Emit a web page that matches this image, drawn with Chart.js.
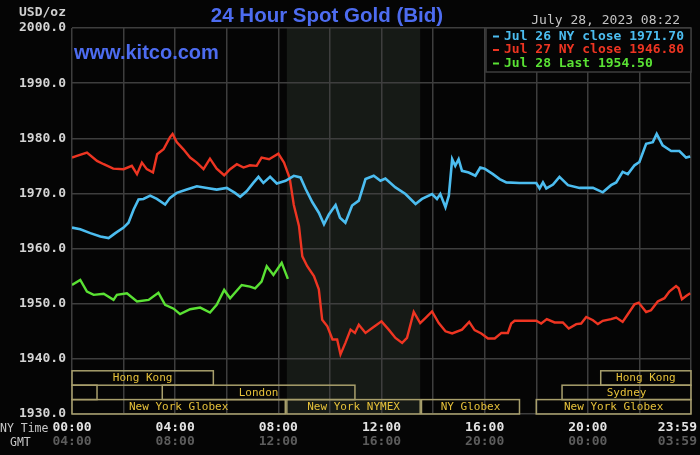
<!DOCTYPE html>
<html>
<head>
<meta charset="utf-8">
<script src="https://cdn.jsdelivr.net/npm/chart.js@4.4.0/dist/chart.umd.min.js"></script>
<style>
  html, body { margin: 0; padding: 0; background: #050505; }
  #goldChart { display: block; background: #050505; }
</style>
</head>
<body>
<canvas id="goldChart" width="700" height="455"></canvas>
<script>
// NY time in hours, gold bid in USD/oz
const hoursJul26 = [0.0, 0.32, 0.71, 1.1, 1.42, 1.68, 2.0, 2.19, 2.39, 2.58, 2.77, 3.03, 3.29, 3.61, 3.8, 4.06, 4.45, 4.84, 5.23, 5.61, 6.0, 6.32, 6.52, 6.77, 7.03, 7.23, 7.42, 7.68, 7.94, 8.28, 8.6, 8.86, 9.06, 9.32, 9.57, 9.77, 9.96, 10.22, 10.39, 10.6, 10.86, 11.12, 11.38, 11.7, 11.96, 12.15, 12.54, 12.93, 13.32, 13.57, 13.96, 14.15, 14.28, 14.48, 14.61, 14.74, 14.86, 14.99, 15.12, 15.38, 15.64, 15.83, 16.0, 16.32, 16.58, 16.84, 17.35, 18.0, 18.13, 18.26, 18.39, 18.65, 18.9, 19.23, 19.68, 20.2, 20.58, 20.9, 21.1, 21.35, 21.55, 21.81, 22.0, 22.26, 22.52, 22.67, 22.9, 23.23, 23.55, 23.81, 23.97];
const goldJul26 = [1963.8, 1963.5, 1962.8, 1962.2, 1961.9, 1962.8, 1963.8, 1964.7, 1967.1, 1968.9, 1969.0, 1969.6, 1969.0, 1968.0, 1969.2, 1970.1, 1970.7, 1971.3, 1971.0, 1970.7, 1971.0, 1970.1, 1969.4, 1970.4, 1971.9, 1973.0, 1971.9, 1973.0, 1971.8, 1972.3, 1973.2, 1972.9, 1970.8, 1968.4, 1966.5, 1964.4, 1966.2, 1967.9, 1965.6, 1964.7, 1967.8, 1968.7, 1972.6, 1973.2, 1972.3, 1972.7, 1971.1, 1969.9, 1968.1, 1969.0, 1969.9, 1969.0, 1969.9, 1967.5, 1969.6, 1976.2, 1975.0, 1976.2, 1974.1, 1973.8, 1973.2, 1974.7, 1974.5, 1973.5, 1972.6, 1972.0, 1971.9, 1971.9, 1970.9, 1972.0, 1970.9, 1971.6, 1973.0, 1971.5, 1971.0, 1971.0, 1970.2, 1971.5, 1972.0, 1973.9, 1973.5, 1975.1, 1975.7, 1979.0, 1979.3, 1980.8, 1978.7, 1977.7, 1977.7, 1976.5, 1976.7];

const hoursJul27 = [0.0, 0.19, 0.58, 0.97, 1.23, 1.6, 2.0, 2.32, 2.52, 2.71, 2.9, 3.14, 3.3, 3.55, 3.8, 3.9, 4.06, 4.32, 4.58, 4.84, 5.1, 5.35, 5.61, 5.9, 6.13, 6.39, 6.65, 6.9, 7.16, 7.35, 7.64, 8.0, 8.22, 8.44, 8.6, 8.8, 8.93, 9.12, 9.38, 9.57, 9.7, 9.9, 10.1, 10.28, 10.41, 10.6, 10.8, 10.97, 11.12, 11.38, 11.64, 12.0, 12.28, 12.54, 12.8, 12.99, 13.25, 13.5, 13.7, 13.96, 14.22, 14.48, 14.74, 15.12, 15.4, 15.61, 15.87, 16.13, 16.39, 16.65, 16.9, 17.03, 17.16, 18.0, 18.19, 18.41, 18.71, 19.03, 19.26, 19.55, 19.74, 19.94, 20.2, 20.39, 20.58, 20.9, 21.1, 21.35, 21.61, 21.81, 21.97, 22.26, 22.45, 22.71, 22.97, 23.16, 23.42, 23.52, 23.65, 23.81, 23.97];
const goldJul27 = [1976.5, 1976.8, 1977.4, 1975.9, 1975.3, 1974.5, 1974.4, 1975.0, 1973.5, 1975.6, 1974.4, 1973.8, 1977.1, 1978.0, 1980.2, 1980.8, 1979.3, 1978.0, 1976.5, 1975.6, 1974.4, 1976.3, 1974.5, 1973.3, 1974.4, 1975.3, 1974.7, 1975.1, 1975.0, 1976.5, 1976.2, 1977.2, 1975.6, 1972.8, 1967.9, 1964.1, 1958.6, 1956.8, 1955.0, 1952.6, 1947.1, 1945.9, 1943.5, 1943.5, 1940.8, 1942.9, 1945.3, 1944.7, 1946.2, 1944.7, 1945.6, 1946.8, 1945.3, 1943.8, 1942.9, 1943.8, 1948.5, 1946.5, 1947.4, 1948.6, 1946.5, 1945.0, 1944.6, 1945.3, 1946.7, 1945.2, 1944.6, 1943.7, 1943.7, 1944.7, 1944.7, 1946.4, 1946.9, 1946.9, 1946.4, 1947.2, 1946.6, 1946.6, 1945.5, 1946.3, 1946.4, 1947.6, 1947.0, 1946.3, 1946.9, 1947.2, 1947.5, 1946.7, 1948.5, 1949.9, 1950.2, 1948.5, 1948.8, 1950.4, 1951.0, 1952.2, 1953.2, 1952.8, 1950.8, 1951.4, 1951.9];

const hoursJul28 = [0.0, 0.32, 0.58, 0.84, 1.23, 1.61, 1.74, 2.13, 2.52, 2.97, 3.35, 3.61, 3.94, 4.19, 4.58, 4.97, 5.35, 5.61, 5.9, 6.13, 6.58, 6.9, 7.1, 7.35, 7.55, 7.81, 8.13, 8.37];
const goldJul28 = [1953.4, 1954.3, 1952.2, 1951.6, 1951.8, 1950.7, 1951.6, 1951.9, 1950.4, 1950.7, 1952.0, 1949.8, 1949.1, 1948.1, 1949.0, 1949.3, 1948.4, 1949.8, 1952.5, 1951.0, 1953.4, 1953.1, 1952.8, 1954.0, 1956.8, 1955.2, 1957.4, 1954.5];

const seriesLabels = ['Jul 26 NY close 1971.70', 'Jul 27 NY close 1946.80', 'Jul 28 Last 1954.50'];

// axis ticks
const nyTimeLabels = ['00:00', '04:00', '08:00', '12:00', '16:00', '20:00', '23:59'];
const gmtLabels = ['04:00', '08:00', '12:00', '16:00', '20:00', '00:00', '03:59'];
const labelHours = [0, 4, 8, 12, 16, 20, 24];

// trading sessions (row 0 = bottom row), hours NY time
const sessionNames = ['New York Globex', 'New York NYMEX', 'NY Globex', 'New York Globex', '', 'London', 'Sydney', 'Hong Kong', 'Hong Kong'];
const sessionRows  = [0, 0, 0, 0, 1, 1, 1, 2, 2];
const sessionStart = [0, 8.33, 13.55, 18.0, 0, 3.5, 19.0, 0, 20.5];
const sessionEnd   = [8.27, 13.5, 17.35, 24, 0.97, 10.97, 24, 5.48, 24];

const nymexOpen = 8.33;
const nymexClose = 13.5;

const mono = '"DejaVu Sans Mono", monospace';

const toPoints = (hours, values) => hours.map((h, i) => ({ x: h, y: values[i] }));

const kitcoDecor = {
    id: 'kitcoDecor',
    beforeDraw(chart) {
        const { ctx, chartArea: area, scales: { x } } = chart;
        ctx.save();
        ctx.fillStyle = '#161a16';
        const x0 = x.getPixelForValue(nymexOpen);
        const x1 = x.getPixelForValue(nymexClose);
        ctx.fillRect(x0, area.top, x1 - x0, area.bottom - area.top);
        ctx.restore();
    },
    afterDraw(chart) {
        const { ctx, chartArea: area, scales: { x } } = chart;
        ctx.save();

        // title + site
        ctx.fillStyle = '#4d6cf0';
        ctx.font = 'bold 20.5px "Liberation Sans", Arial, sans-serif';
        ctx.textAlign = 'center';
        ctx.textBaseline = 'alphabetic';
        ctx.fillText('24 Hour Spot Gold (Bid)', 327, 22);
        ctx.font = 'bold 20px "Liberation Sans", Arial, sans-serif';
        ctx.textAlign = 'left';
        ctx.fillText('www.kitco.com', 74, 59);

        // units + timestamp
        ctx.font = 'bold 13px ' + mono;
        ctx.fillStyle = '#d0d0d0';
        ctx.textBaseline = 'middle';
        ctx.textAlign = 'left';
        ctx.fillText('USD/oz', 19, 13);
        ctx.fillStyle = '#c4c4c4';
        ctx.font = '13px ' + mono;
        ctx.textAlign = 'right';
        ctx.fillText('July 28, 2023 08:22', 680, 21);

        // legend box
        const lx = 486, ly = area.top, lw = area.right - lx, lh = 44;
        ctx.fillStyle = '#050505';
        ctx.fillRect(lx, ly, lw, lh);
        ctx.strokeStyle = '#3e3e3e';
        ctx.lineWidth = 1.5;
        ctx.strokeRect(lx, ly, lw, lh);
        ctx.font = 'bold 13px ' + mono;
        ctx.textAlign = 'left';
        chart.data.datasets.forEach((ds, i) => {
            const yy = ly + 8.5 + i * 13.5;
            ctx.strokeStyle = ds.borderColor;
            ctx.lineWidth = 2;
            ctx.beginPath();
            ctx.moveTo(493, yy);
            ctx.lineTo(499, yy);
            ctx.stroke();
            ctx.fillStyle = ds.borderColor;
            ctx.fillText(ds.label, 504, yy);
        });

        // session bars
        const rowH = 14.4;
        ctx.lineWidth = 1.5;
        ctx.font = '11px ' + mono;
        ctx.textAlign = 'center';
        sessionNames.forEach((name, i) => {
            const bx0 = x.getPixelForValue(sessionStart[i]);
            const bx1 = x.getPixelForValue(sessionEnd[i]);
            const by1 = area.bottom - sessionRows[i] * rowH;
            const by0 = by1 - rowH;
            ctx.strokeStyle = '#a89f6c';
            ctx.strokeRect(bx0, by0, bx1 - bx0, rowH);
            if (name) {
                ctx.fillStyle = '#e6c13a';
                ctx.fillText(name, (bx0 + bx1) / 2, (by0 + by1) / 2 + 0.5);
            }
        });

        // time axis labels
        ctx.textBaseline = 'middle';
        ctx.font = '11.5px ' + mono;
        ctx.fillStyle = '#c8c8c8';
        ctx.textAlign = 'left';
        ctx.fillText('NY Time', 0, 429);
        ctx.fillText('GMT', 10, 443);
        ctx.font = 'bold 13px ' + mono;
        labelHours.forEach((h, i) => {
            let px = x.getPixelForValue(h);
            if (h === 24) {
                ctx.textAlign = 'right';
                px += 6;
            } else {
                ctx.textAlign = 'center';
            }
            ctx.fillStyle = '#e4e4e4';
            ctx.fillText(nyTimeLabels[i], px, 428);
            ctx.fillStyle = '#5c5c5c';
            ctx.fillText(gmtLabels[i], px, 442);
        });

        ctx.restore();
    }
};

new Chart(document.getElementById('goldChart'), {
    type: 'line',
    data: {
        datasets: [
            {
                label: seriesLabels[0],
                data: toPoints(hoursJul26, goldJul26),
                borderColor: '#4cbdf0',
                borderWidth: 2.6
            },
            {
                label: seriesLabels[1],
                data: toPoints(hoursJul27, goldJul27),
                borderColor: '#ee3522',
                borderWidth: 2.4
            },
            {
                label: seriesLabels[2],
                data: toPoints(hoursJul28, goldJul28),
                borderColor: '#5ae234',
                borderWidth: 2.4
            }
        ]
    },
    options: {
        responsive: false,
        animation: false,
        devicePixelRatio: 1,
        parsing: false,
        pointRadius: 0,
        tension: 0,
        layout: { padding: { left: 0, top: 28, right: 9, bottom: 41 } },
        plugins: {
            legend: { display: false },
            tooltip: { enabled: false }
        },
        elements: { point: { radius: 0 }, line: { tension: 0 } },
        scales: {
            x: {
                type: 'linear',
                min: 0,
                max: 24,
                ticks: { display: false, stepSize: 2 },
                grid: { color: '#3e3e3e', lineWidth: 1.5, drawTicks: false },
                border: { display: false },
                afterFit: scale => { scale.height = 0; }
            },
            y: {
                min: 1930,
                max: 2000,
                ticks: {
                    stepSize: 10,
                    padding: 6,
                    color: '#d4d4d4',
                    font: { family: mono, size: 13, weight: 'bold' },
                    callback: v => v.toFixed(1)
                },
                grid: { color: '#3e3e3e', lineWidth: 1.5, drawTicks: false },
                border: { display: false },
                afterFit: scale => { scale.width = 72; }
            }
        }
    },
    plugins: [kitcoDecor]
});
</script>
</body>
</html>
